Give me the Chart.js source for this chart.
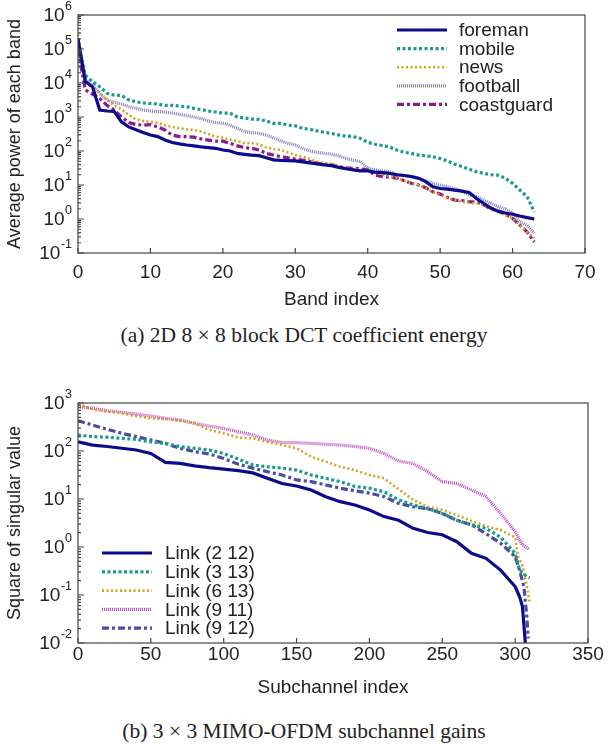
<!DOCTYPE html>
<html>
<head>
<meta charset="utf-8">
<script src="https://cdn.jsdelivr.net/npm/chart.js@4"></script>
<style>
    body { margin: 0; background: #fff; width: 608px; height: 746px; position: relative; overflow: hidden; }
    .box { position: absolute; left: 0; width: 608px; }
    .cap { position: absolute; left: 0; width: 608px; text-align: center; font-family: "Liberation Serif", "Times New Roman", serif; font-size: 21.5px; color: #222; }
</style>
</head>
<body>
<div class="box" style="top:0;height:315px"><canvas id="dctChart"></canvas></div>
<div class="cap" style="top:323px">(a) 2D 8 &times; 8 block DCT coefficient energy</div>
<div class="box" style="top:388px;height:315px"><canvas id="mimoChart"></canvas></div>
<div class="cap" style="top:719px">(b) 3 &times; 3 MIMO-OFDM subchannel gains</div>

<script>
// (a) average power per DCT band, bands 0..63
const bandIdx = Array.from({ length: 64 }, (_, i) => i);

const foreman = [2e5, 1.1e4, 7.8e3, 1.6e3, 1.5e3, 1.45e3, 720, 510, 420, 350,
    295, 265, 210, 178, 162, 150, 141, 132, 126, 120,
    107, 100, 85, 80, 76, 73, 63, 55, 53, 52,
    51, 48, 45, 42, 39, 37, 33, 30, 28, 26,
    26, 24, 23, 22, 20, 19, 17.8, 15.9, 12.6, 8.9,
    7.9, 7.6, 7.1, 6.6, 6.0, 4.0, 2.9, 2.1, 1.7, 1.5,
    1.38, 1.22, 1.1, 1.0];
const mobile = [1.5e5, 1.7e4, 1.1e4, 7.8e3, 5e3, 4.4e3, 4.3e3, 3.2e3, 2.8e3, 2.6e3,
    2.5e3, 2.4e3, 2.2e3, 2.2e3, 2.1e3, 2e3, 1.8e3, 1.65e3, 1.5e3, 1.4e3,
    1.3e3, 1.3e3, 1.0e3, 930, 870, 850, 760, 650, 650, 575,
    550, 465, 435, 390, 355, 330, 295, 275, 265, 235,
    180, 158, 145, 132, 107, 92, 85, 76, 72, 68,
    60, 51, 41, 35, 29, 24.5, 22, 20, 19.5, 15.8,
    11.2, 7.1, 4.6, 1.6];
const news = [2.8e5, 1.4e4, 7.8e3, 5e3, 3.2e3, 2.2e3, 1.7e3, 1.15e3, 850, 760,
    720, 680, 575, 510, 465, 435, 415, 370, 315, 265,
    245, 215, 195, 173, 170, 158, 126, 115, 107, 91,
    76, 68, 58, 49, 44, 42, 35, 31, 30, 28,
    26, 23.4, 20.5, 17.8, 15.9, 13.5, 11.2, 10, 8, 6.3,
    5.1, 4.1, 3.6, 3.2, 3.0, 2.9, 2.6, 2.0, 1.6, 1.3,
    1.05, 0.66, 0.42, 0.27];
const football = [1.5e5, 1.2e4, 8.7e3, 5e3, 3.2e3, 2.7e3, 2.4e3, 2e3, 1.8e3, 1.6e3,
    1.5e3, 1.45e3, 1.4e3, 1.3e3, 1.2e3, 1.1e3, 1.0e3, 900, 760, 690,
    650, 575, 465, 370, 350, 330, 295, 245, 195, 168,
    150, 120, 100, 91, 85, 80, 72, 60, 54, 49,
    31, 28, 26, 24.5, 20.5, 19, 17.8, 15.9, 13.4, 11.2,
    10, 8.9, 7.9, 6.6, 5.1, 4.6, 3.6, 2.9, 2.3, 2.0,
    1.5, 0.83, 0.66, 0.38];
const coastguard = [1e5, 6.3e3, 4.7e3, 3.5e3, 2.2e3, 1.6e3, 1.0e3, 690, 600, 575,
    600, 510, 415, 295, 265, 265, 255, 225, 210, 195,
    195, 168, 141, 126, 120, 107, 85, 76, 68, 63,
    58, 54, 49, 44, 41, 39, 35, 32, 31, 30,
    28, 19.5, 17.8, 17, 15.9, 13.5, 11.2, 10, 8.3, 6.3,
    5.4, 4.3, 3.6, 3.5, 3.2, 3.2, 2.6, 2.0, 1.7, 1.4,
    1.05, 0.66, 0.42, 0.21];

// (b) squared singular values, sampled every 10 subchannels, plus each link's tail
const subIdx = Array.from({ length: 31 }, (_, i) => i * 10);

const link212 = [155, 133, 124, 114, 105, 89, 58, 55, 49, 45, 42, 39, 35, 27, 21, 18.7,
    15.4, 11.2, 8.8, 7.5, 5.9, 4.3, 3.6, 2.45, 2.0, 1.8, 1.29, 0.74, 0.58, 0.33, 0.15];
const link212TailX = [303, 305, 307];
const link212TailY = [0.093, 0.058, 0.01];

const link313 = [215, 199, 194, 183, 174, 155, 144, 124, 114, 105, 89, 68, 51, 47, 44, 40,
    31.6, 27, 23, 18.3, 16.8, 14.1, 9.6, 7.5, 6.3, 5.0, 3.6, 2.9, 2.45, 1.6, 0.74];
const link313TailX = [303, 305, 308, 310];
const link313TailY = [0.33, 0.29, 0.24, 0.23];

const link613 = [950, 740, 660, 610, 535, 480, 460, 428, 377, 274, 234, 190, 183, 155, 133, 114,
    76, 60, 47, 40, 31.6, 27, 16, 9.6, 6.9, 5.9, 4.6, 3.5, 2.7, 2.25, 1.6];
const link613TailX = [302, 305, 308, 310];
const link613TailY = [0.63, 0.42, 0.15, 0.072];

const link911 = [840, 775, 690, 640, 590, 535, 480, 442, 377, 330, 296, 252, 215, 170, 149, 149,
    144, 138, 133, 124, 114, 89, 62, 55, 37, 23, 21, 15.4, 11.2, 5.0, 2.1];
const link911TailX = [305, 310];
const link911TailY = [1.1, 0.89];

const link912 = [428, 348, 283, 234, 199, 170, 144, 114, 97, 87, 70, 53, 44, 37, 31.6, 25,
    23, 19.6, 16.8, 14.8, 13.3, 11.2, 8.1, 6.9, 6.3, 5.0, 3.6, 2.9, 1.9, 1.2, 0.63];
const link912TailX = [303, 306, 308, 309];
const link912TailY = [0.33, 0.15, 0.036, 0.0125];

const FONT = '"Liberation Sans", Arial, Helvetica, sans-serif';
const TEXT = '#222';

function toPoints(xs, ys) {
    return xs.map((x, i) => ({ x: x, y: ys[i] }));
}

function series(label, xs, ys, color, width, dash) {
    return {
        label: label,
        data: toPoints(xs, ys),
        borderColor: color,
        borderWidth: width,
        borderDash: dash,
        pointRadius: 0,
        fill: false,
        tension: 0
    };
}

// box frame, inward ticks and 10^k labels
const frameTicks = {
    id: 'frameTicks',
    afterDraw(chart, args, opts) {
        const { ctx, chartArea: a, scales: { x, y } } = chart;
        ctx.save();
        ctx.strokeStyle = '#444';
        ctx.lineWidth = 1.2;
        ctx.strokeRect(a.left, a.top, a.right - a.left, a.bottom - a.top);

        ctx.beginPath();
        x.ticks.forEach(t => {
            const px = x.getPixelForValue(t.value);
            ctx.moveTo(px, a.bottom);
            ctx.lineTo(px, a.bottom - 5);
        });
        for (let k = opts.minExp; k <= opts.maxExp; k++) {
            const py = y.getPixelForValue(Math.pow(10, k));
            ctx.moveTo(a.left, py);
            ctx.lineTo(a.left + 6, py);
            if (k < opts.maxExp) {
                for (let m = 2; m < 10; m++) {
                    const pm = y.getPixelForValue(m * Math.pow(10, k));
                    ctx.moveTo(a.left, pm);
                    ctx.lineTo(a.left + 3, pm);
                }
            }
        }
        ctx.stroke();

        ctx.fillStyle = TEXT;
        ctx.textBaseline = 'middle';
        for (let k = opts.minExp; k <= opts.maxExp; k++) {
            const py = y.getPixelForValue(Math.pow(10, k));
            const exp = String(k);
            const xr = a.left - 6;
            ctx.font = '12.5px ' + FONT;
            const ew = ctx.measureText(exp).width;
            ctx.textAlign = 'left';
            ctx.fillText(exp, xr - ew, py - 8);
            ctx.font = '19px ' + FONT;
            ctx.textAlign = 'right';
            ctx.fillText('10', xr - ew - 0.5, py + 1);
        }
        ctx.restore();
    }
};

// legend drawn inside the plot
const innerLegend = {
    id: 'innerLegend',
    afterDraw(chart, args, opts) {
        const ctx = chart.ctx;
        ctx.save();
        ctx.font = '19px ' + FONT;
        ctx.textBaseline = 'middle';
        ctx.textAlign = 'left';
        chart.data.datasets.forEach((ds, i) => {
            const yy = opts.top + i * opts.rowGap;
            ctx.strokeStyle = ds.borderColor;
            ctx.lineWidth = ds.borderWidth;
            ctx.setLineDash(ds.borderDash || []);
            ctx.beginPath();
            ctx.moveTo(opts.left, yy);
            ctx.lineTo(opts.left + opts.lineLen, yy);
            ctx.stroke();
            ctx.setLineDash([]);
            ctx.fillStyle = TEXT;
            ctx.fillText(ds.label, opts.left + opts.lineLen + opts.textGap, yy + 1);
        });
        ctx.restore();
    }
};

function baseOptions(cfg) {
    return {
        responsive: true,
        maintainAspectRatio: false,
        animation: false,
        layout: { padding: { left: 0, right: cfg.padRight, top: 15, bottom: 0 } },
        plugins: {
            legend: { display: false },
            tooltip: { enabled: false },
            frameTicks: { minExp: cfg.minExp, maxExp: cfg.maxExp },
            innerLegend: cfg.legend
        },
        scales: {
            x: {
                type: 'linear',
                min: 0,
                max: cfg.xMax,
                grid: { display: false, drawTicks: false },
                border: { display: false },
                ticks: { stepSize: cfg.xStep, padding: cfg.tickPad, color: TEXT, font: { family: FONT, size: 19 } },
                title: { display: true, text: cfg.xTitle, color: TEXT, font: { family: FONT, size: 19 }, padding: { top: 0, bottom: 4 } },
                afterFit: s => { s.height = cfg.xHeight; }
            },
            y: {
                type: 'logarithmic',
                min: Math.pow(10, cfg.minExp),
                max: Math.pow(10, cfg.maxExp),
                grid: { display: false, drawTicks: false },
                border: { display: false },
                ticks: { display: false },
                title: { display: true, text: cfg.yTitle, color: TEXT, font: { family: FONT, size: 18 }, padding: { top: 4, bottom: 0 } },
                afterFit: s => { s.width = 78; }
            }
        }
    };
}

new Chart(document.getElementById('dctChart'), {
    type: 'line',
    data: {
        datasets: [
            series('foreman', bandIdx, foreman, '#0b0b8c', 3.2, []),
            series('mobile', bandIdx, mobile, '#199b8f', 3.2, [3, 2.5]),
            series('news', bandIdx, news, '#d6a21c', 2.6, [2, 2.5]),
            series('football', bandIdx, football, '#7e7ebe', 3.2, [1, 1]),
            series('coastguard', bandIdx, coastguard, '#8c1a8c', 3.2, [7, 3, 3, 3])
        ]
    },
    options: baseOptions({
        padRight: 23, xMax: 70, xStep: 10, tickPad: 8, xHeight: 62,
        minExp: -1, maxExp: 6,
        xTitle: 'Band index', yTitle: 'Average power of each band',
        legend: { left: 397, top: 30, rowGap: 18.6, lineLen: 50, textGap: 12 }
    }),
    plugins: [frameTicks, innerLegend]
});

new Chart(document.getElementById('mimoChart'), {
    type: 'line',
    data: {
        datasets: [
            series('Link (2 12)', subIdx.concat(link212TailX), link212.concat(link212TailY), '#0b0b8c', 3.2, []),
            series('Link (3 13)', subIdx.concat(link313TailX), link313.concat(link313TailY), '#199b8f', 3.2, [3, 2.5]),
            series('Link (6 13)', subIdx.concat(link613TailX), link613.concat(link613TailY), '#d6a21c', 2.6, [2, 2.5]),
            series('Link (9 11)', subIdx.concat(link911TailX), link911.concat(link911TailY), '#c248c6', 3.2, [1, 1]),
            series('Link (9 12)', subIdx.concat(link912TailX), link912.concat(link912TailY), '#4b4ba2', 3.2, [7, 3, 3, 3])
        ]
    },
    options: baseOptions({
        padRight: 20, xMax: 350, xStep: 50, tickPad: 0, xHeight: 60,
        minExp: -2, maxExp: 3,
        xTitle: 'Subchannel index', yTitle: 'Square of singular value',
        legend: { left: 102, top: 165, rowGap: 18.8, lineLen: 50, textGap: 13 }
    }),
    plugins: [frameTicks, innerLegend]
});
</script>
</body>
</html>
